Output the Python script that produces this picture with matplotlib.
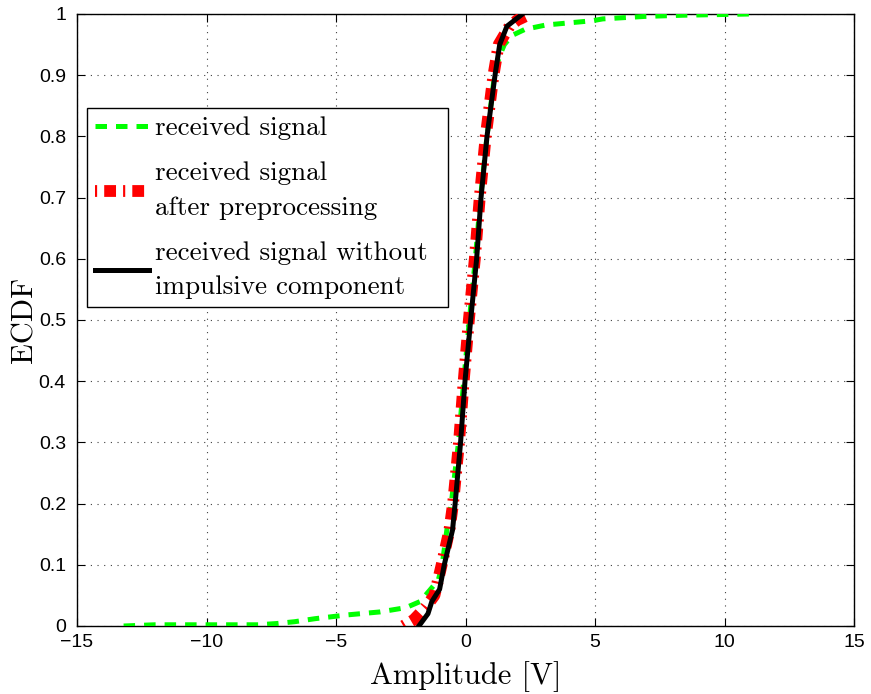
"""ECDF of received signal amplitudes, MATLAB-style figure"""

import matplotlib
matplotlib.use("Agg")
import matplotlib.pyplot as plt


# ECDF levels and the amplitudes for each curve
green_y = [0.0, 0.002, 0.002, 0.004, 0.007, 0.012, 0.018, 0.023, 0.030, 0.040,
           0.055, 0.075, 0.10, 0.157, 0.20, 0.30, 0.40, 0.50, 0.60, 0.70,
           0.80, 0.90, 0.93, 0.95, 0.965, 0.975, 0.982, 0.989, 0.992, 0.996,
           0.998, 1.0]
green_x = [-13.2, -12.0, -8.0, -7.3, -6.6, -5.8, -4.6, -3.3, -2.3, -1.75,
           -1.45, -1.05, -0.9, -0.72, -0.55, -0.27, -0.07, 0.15, 0.38, 0.58,
           0.83, 1.12, 1.3, 1.5, 1.8, 2.3, 3.1, 4.9, 5.3, 6.9,
           8.4, 11.0]

red_y = [0.0, 0.01, 0.03, 0.05, 0.10, 0.157, 0.20, 0.30, 0.40, 0.50, 0.60,
         0.70, 0.80, 0.90, 0.95, 0.98, 0.99, 1.0]
red_x = [-2.4, -2.0, -1.55, -1.2, -0.92, -0.62, -0.48, -0.25, -0.07, 0.13,
         0.36, 0.55, 0.78, 1.08, 1.28, 1.7, 2.0, 2.5]

black_y = [0.0, 0.02, 0.04, 0.06, 0.10, 0.157, 0.20, 0.30, 0.40, 0.50, 0.60,
           0.70, 0.80, 0.90, 0.95, 0.98, 1.0]
black_x = [-1.8, -1.45, -1.3, -1.0, -0.82, -0.5, -0.4, -0.19, -0.02, 0.2,
           0.43, 0.6, 0.83, 1.14, 1.32, 1.6, 2.2]

labels = ["received signal",
          "received signal\nafter preprocessing",
          "received signal without\nimpulsive component"]

x_ticks = [-15, -10, -5, 0, 5, 10, 15]
y_ticks = [0, 0.1, 0.2, 0.3, 0.4, 0.5, 0.6, 0.7, 0.8, 0.9, 1]
y_tick_labels = ["0", "0.1", "0.2", "0.3", "0.4", "0.5", "0.6", "0.7", "0.8", "0.9", "1"]

SERIF = "cmr10"
SANS = ["Liberation Sans", "DejaVu Sans"]

fig = plt.figure(figsize=(8.71, 6.94), dpi=100)
ax = fig.add_axes([77 / 871, 68 / 694, 777 / 871, 612 / 694])

ax.plot(green_x, green_y, color="#00ff00", lw=3.6, dashes=(2.3, 1.8),
        dash_capstyle="butt", label=labels[0], zorder=3)
ax.plot(red_x, red_y, color="red", lw=8.5, dashes=(0.18, 0.6, 1.0, 0.6),
        dash_capstyle="butt", label=labels[1], zorder=4)
ax.plot(black_x, black_y, color="black", lw=3.6, label=labels[2], zorder=5)

ax.set_xlim(-15, 15)
ax.set_ylim(0, 1)
ax.set_xticks(x_ticks)
ax.set_yticks(y_ticks)
ax.set_yticklabels(y_tick_labels)
for lab in ax.get_xticklabels() + ax.get_yticklabels():
    lab.set_family(SANS)
    lab.set_fontsize(14)

ax.tick_params(direction="in", length=6, width=0.8, top=True, right=True,
               pad=6, color="black")
ax.tick_params(axis="y", pad=8)
ax.grid(True, color="0.25", lw=0.8, linestyle=(0, (1.0, 5.0)))
for sp in ax.spines.values():
    sp.set_linewidth(1.0)

ax.set_xlabel("Amplitude [V]", fontfamily=SERIF, fontsize=22, labelpad=7)
ax.set_ylabel("ECDF", fontfamily=SERIF, fontsize=22, labelpad=0)

# legend box spans px 87..448 horizontally in the reference
leg = ax.legend(loc="upper left",
                bbox_to_anchor=(10 / 777, 518 / 612, 361 / 777, 0.0),
                mode="expand", borderaxespad=0, fancybox=False, framealpha=1,
                edgecolor="black", prop={"family": SERIF, "size": 19.5},
                handlelength=2.0, handletextpad=0.2, labelspacing=0.8,
                borderpad=0.3)
leg.get_frame().set_linewidth(1.0)
for t in leg.get_texts():
    t.set_linespacing(1.55)

fig.savefig("out.png", dpi=100)
